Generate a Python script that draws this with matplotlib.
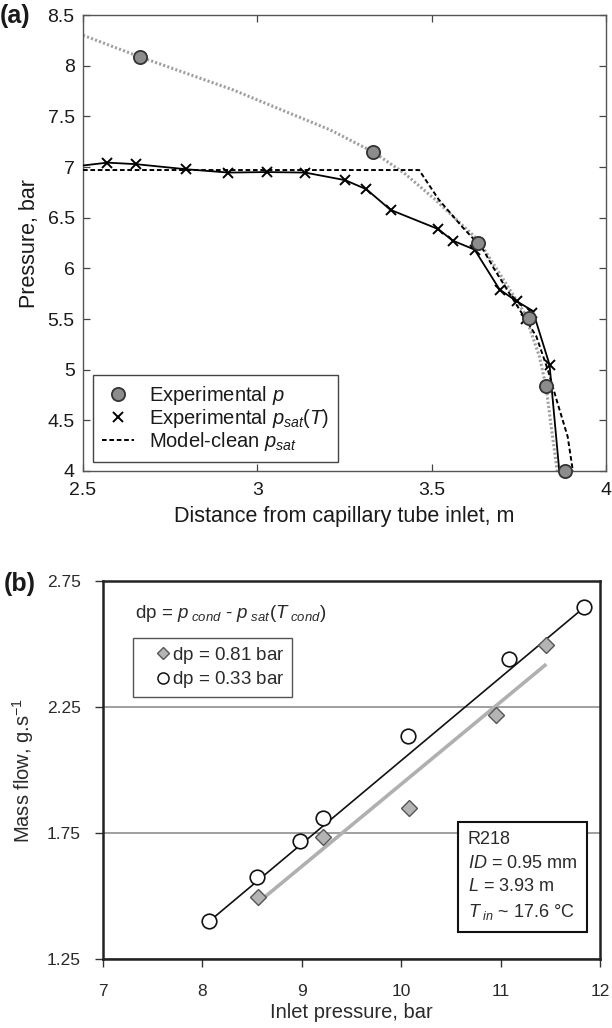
import matplotlib
matplotlib.use('Agg')
import matplotlib.pyplot as plt
from matplotlib.lines import Line2D

plt.rcParams['font.family'] = ['Liberation Sans', 'DejaVu Sans']
plt.rcParams['mathtext.fontset'] = 'custom'
plt.rcParams['mathtext.rm'] = 'Liberation Sans'
plt.rcParams['mathtext.it'] = 'Liberation Sans:italic'
plt.rcParams['mathtext.bf'] = 'Liberation Sans:bold'
plt.rcParams['mathtext.sf'] = 'Liberation Sans'

# ---------------- Panel (a) data ----------------
exp_p_x = [2.664, 3.332, 3.633, 3.778, 3.828, 3.881]
exp_p_y = [8.086, 7.149, 6.250, 5.510, 4.834, 4.000]

psat_x = [2.570, 2.652, 2.795, 2.917, 3.027, 3.137, 3.252, 3.313, 3.382,
          3.519, 3.560, 3.623, 3.695, 3.745, 3.771, 3.787, 3.838]
psat_y = [7.043, 7.028, 6.978, 6.939, 6.955, 6.945, 6.870, 6.780, 6.577,
          6.387, 6.274, 6.180, 5.790, 5.673, 5.500, 5.560, 5.050]

psat_curve_x = [2.50, 2.570, 2.652, 2.795, 2.917, 3.027, 3.137, 3.252, 3.313,
                3.382, 3.519, 3.560, 3.623, 3.695, 3.745, 3.790, 3.838, 3.866]
psat_curve_y = [7.015, 7.043, 7.028, 6.978, 6.945, 6.950, 6.945, 6.870, 6.780,
                6.577, 6.387, 6.274, 6.185, 5.790, 5.673, 5.580, 5.050, 4.000]

model_psat_x = [2.50, 3.464, 3.520, 3.590, 3.645, 3.680, 3.747, 3.800,
                3.833, 3.861, 3.890, 3.905]
model_psat_y = [6.97, 6.970, 6.680, 6.400, 6.200, 5.990, 5.620, 5.330,
                5.000, 4.670, 4.340, 4.000]

model_p_x = [2.50, 2.664, 2.931, 3.209, 3.332, 3.421, 3.511, 3.633, 3.700,
             3.766, 3.809, 3.828, 3.842, 3.860]
model_p_y = [8.30, 8.086, 7.760, 7.366, 7.149, 6.940, 6.676, 6.280, 5.920,
             5.560, 5.130, 4.834, 4.460, 4.000]

a_xticks = [2.5, 3, 3.5, 4]
a_xticklabels = ['2.5', '3', '3.5', '4']
a_yticks = [4, 4.5, 5, 5.5, 6, 6.5, 7, 7.5, 8, 8.5]
a_yticklabels = ['4', '4.5', '5', '5.5', '6', '6.5', '7', '7.5', '8', '8.5']
a_legend_labels = ['Experimental $p$', 'Experimental $p_{sat}(T)$',
                   'Model-clean $p_{sat}$']

# ---------------- Panel (b) data ----------------
circ_x = [8.07, 8.55, 8.98, 9.21, 10.07, 11.08, 11.84]
circ_y = [1.40, 1.575, 1.72, 1.81, 2.135, 2.44, 2.645]
diam_x = [8.56, 9.21, 10.08, 10.95, 11.46]
diam_y = [1.497, 1.734, 1.850, 2.220, 2.495]
trend_circ_x = [8.07, 11.84]
trend_circ_y = [1.40, 2.645]
trend_diam_x = [8.56, 11.46]
trend_diam_y = [1.474, 2.42]

b_xticks = [7, 8, 9, 10, 11, 12]
b_xticklabels = ['7', '8', '9', '10', '11', '12']
b_yticks = [1.25, 1.75, 2.25, 2.75]
b_yticklabels = ['1.25', '1.75', '2.25', '2.75']
b_legend_labels = ['dp = 0.81 bar', 'dp = 0.33 bar']

TXT = '#1a1a1a'
W, H = 612, 1028

fig = plt.figure(figsize=(W / 100, H / 100), dpi=100)

# ================= Panel (a) =================
ax1 = fig.add_axes([83 / W, 1 - 471 / H, (606 - 83) / W, (471 - 15) / H])
ax1.plot(model_p_x, model_p_y, color='#a0a0a0', lw=2.2, ls=(0, (0.7, 0.7)), zorder=2)
ax1.plot(model_psat_x, model_psat_y, color='black', lw=1.4, ls=(0, (2.4, 1.4)), zorder=3)
ax1.plot(psat_curve_x, psat_curve_y, color='black', lw=1.3, zorder=4)
ax1.plot(psat_x, psat_y, ls='none', marker='x', color='black', ms=7, mew=1.4, zorder=5)
ax1.plot(exp_p_x, exp_p_y, ls='none', marker='o', mfc='#8c8c8c', mec='#333333',
         mew=1.3, ms=9.5, zorder=6, clip_on=False)

ax1.set_xlim(2.5, 4)
ax1.set_ylim(4, 8.5)
ax1.set_xticks(a_xticks)
ax1.set_xticklabels(a_xticklabels)
ax1.set_yticks(a_yticks)
ax1.set_yticklabels(a_yticklabels)
ax1.tick_params(direction='in', top=True, right=True, length=5, width=0.9,
                color='#444444', labelsize=14, labelcolor=TXT)
ax1.tick_params(axis='x', pad=8)
ax1.tick_params(axis='y', pad=6)
for s in ax1.spines.values():
    s.set_color('#555555')
    s.set_linewidth(1.0)
ax1.set_xlabel('Distance from capillary tube inlet, m', fontsize=15.5, color=TXT, labelpad=5)
ax1.set_ylabel('Pressure, bar', fontsize=15.5, color=TXT, labelpad=5)

handles_a = [
    Line2D([], [], ls='none', marker='o', mfc='#8c8c8c', mec='#333333', mew=1.3, ms=9.5),
    Line2D([], [], ls='none', marker='x', color='black', ms=7, mew=1.4),
    Line2D([], [], color='black', lw=1.4, ls=(0, (2.4, 1.4))),
]
leg_a = ax1.legend(handles_a, a_legend_labels, loc='lower left',
                   bbox_to_anchor=(93 / W, 1 - 462 / H), bbox_transform=fig.transFigure,
                   borderaxespad=0, fontsize=14.5, frameon=True, fancybox=False,
                   edgecolor='#444444', framealpha=1, handlelength=1.6,
                   handletextpad=0.75, borderpad=0.45, labelspacing=0.0)
leg_a.get_frame().set_linewidth(1.0)
for t in leg_a.get_texts():
    t.set_color(TXT)

fig.text(0.0, 1 - 16 / H, '(a)', fontsize=18, fontweight='bold', color=TXT,
         ha='left', va='center')

# ================= Panel (b) =================
ax2 = fig.add_axes([103 / W, 1 - 959 / H, (600 - 103) / W, (959 - 581) / H])
ax2.set_axisbelow(True)
ax2.yaxis.grid(True, color='#8f8f8f', lw=1.2)
ax2.plot(trend_diam_x, trend_diam_y, color='#b0b0b0', lw=2.6, solid_capstyle='butt', zorder=2)
ax2.plot(trend_circ_x, trend_circ_y, color='#111111', lw=1.2, zorder=3)
ax2.plot(diam_x, diam_y, ls='none', marker='D', mfc='#b4b4b4', mec='#555555',
         mew=1.0, ms=8, zorder=4)
ax2.plot(circ_x, circ_y, ls='none', marker='o', mfc='white', mec='#111111',
         mew=1.2, ms=10.5, zorder=5)

ax2.set_xlim(7, 12)
ax2.set_ylim(1.25, 2.75)
ax2.set_xticks(b_xticks)
ax2.set_xticklabels(b_xticklabels)
ax2.set_yticks(b_yticks)
ax2.set_yticklabels(b_yticklabels)
ax2.tick_params(direction='out', length=6, width=1.0, color='#333333',
                labelsize=12.5, labelcolor='#2a2a2a')
ax2.tick_params(axis='x', pad=12)
ax2.tick_params(axis='y', pad=10)
for s in ax2.spines.values():
    s.set_color('#222222')
    s.set_linewidth(1.8)
ax2.set_xlabel('Inlet pressure, bar', fontsize=14.5, color='#2a2a2a', labelpad=3)
ax2.set_ylabel('Mass flow, g.s$^{\\mathregular{-1}}$', fontsize=14.5, color='#2a2a2a', labelpad=8)

ax2.text(135 / W, 1 - 613 / H,
         r'dp = $p_{\ cond}$ - $p_{\ sat}$($T_{\ cond}$)',
         transform=fig.transFigure, fontsize=13.5, color='#2a2a2a',
         ha='left', va='center')

handles_b = [
    Line2D([], [], ls='none', marker='D', mfc='#b4b4b4', mec='#555555', mew=1.0, ms=6.5),
    Line2D([], [], ls='none', marker='o', mfc='white', mec='#111111', mew=1.1, ms=8),
]
leg_b = ax2.legend(handles_b, [lab + r'$\quad$' for lab in b_legend_labels],
                   loc='upper left',
                   bbox_to_anchor=(133 / W, 1 - 638 / H), bbox_transform=fig.transFigure,
                   borderaxespad=0, fontsize=13.5, frameon=True, fancybox=False,
                   edgecolor='#555555', framealpha=1, handlelength=2.5,
                   handletextpad=-0.75, borderpad=0.35, labelspacing=0.2)
leg_b.get_frame().set_linewidth(1.0)
for t in leg_b.get_texts():
    t.set_color('#2a2a2a')

ax2.text(468 / W, 1 - 831 / H,
         'R218\n$ID$ = 0.95 mm\n$L$ = 3.93 m\n$T_{\\ in}$ ~ 17.6 °C',
         transform=fig.transFigure, fontsize=13, color='#2a2a2a',
         ha='left', va='top', linespacing=1.5,
         bbox=dict(boxstyle='square,pad=0.55', fc='white', ec='#111111', lw=1.5))

fig.text(0.006, 1 - 584 / H, '(b)', fontsize=18, fontweight='bold', color=TXT,
         ha='left', va='center')

fig.savefig('out.png', dpi=100)
